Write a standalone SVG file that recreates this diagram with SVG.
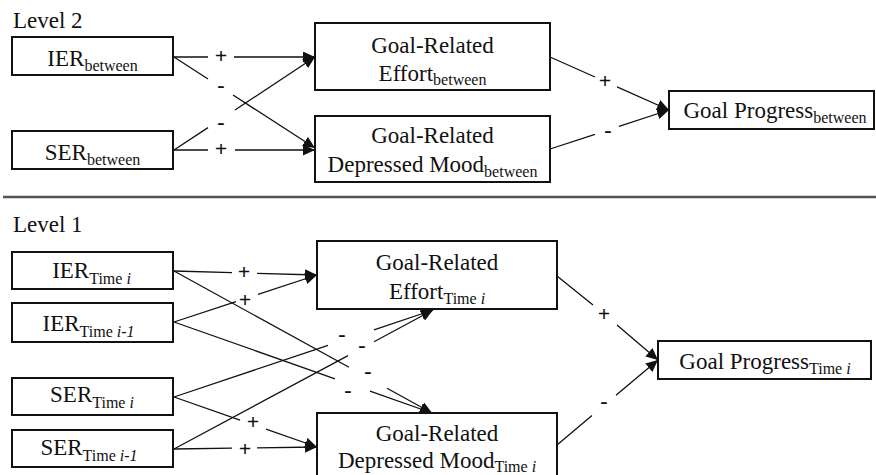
<svg xmlns="http://www.w3.org/2000/svg" width="876" height="475" viewBox="0 0 876 475">
<style>
.box{fill:#fff;stroke:#111;stroke-width:2}
.t{font-family:"Liberation Serif","Times New Roman",serif;font-size:23px;fill:#111;text-anchor:middle}
.lv{font-family:"Liberation Serif","Times New Roman",serif;font-size:23px;fill:#111}
.sub{font-size:16px}
.sg{font-family:"Liberation Serif","Times New Roman",serif;font-size:22px;fill:#111;text-anchor:middle;font-weight:bold}
.c{fill:none;stroke:#111;stroke-width:1.3;marker-end:url(#ah)}
</style>
<defs>
<marker id="ah" markerUnits="userSpaceOnUse" markerWidth="12" markerHeight="11" refX="12" refY="5.5" orient="auto">
<path d="M0,0 L12,5.5 L0,11 z" fill="#111"/>
</marker>
</defs>
<rect width="876" height="475" fill="#fff"/>
<text class="lv" x="13" y="28">Level 2</text>
<text class="lv" x="13" y="232">Level 1</text>
<line x1="3" y1="197" x2="876" y2="197" stroke="#555" stroke-width="2.5"/>

<g id="connectors">
<path class="c" d="M174,57 L208,57 M234,57 L315,57"/>
<path class="c" d="M174,57 L208,79 M233,95 L315,148"/>
<path class="c" d="M174,150 L208,127.6 M235,110 L315,57"/>
<path class="c" d="M174,150 L208,150 M235,150 L315,150"/>
<path class="c" d="M550,57 L595,77 M617,86.8 L669,110"/>
<path class="c" d="M550,149 L595,134.3 M619,126.3 L669,110"/>
<path class="c" d="M174,271 L232,272.6 M257,273.3 L317,275"/>
<path class="c" d="M174,322 L236,301.6 M258,294.4 L317,275"/>
<path class="c" d="M174,271 L349,367.3 M387,388.2 L432,413"/>
<path class="c" d="M174,322 L335,378.8 M370,391.1 L432,413"/>
<path class="c" d="M174,397 L328,345.3 M374,329.8 L433,310"/>
<path class="c" d="M174,449 L348,355.6 M374,341.7 L433,310"/>
<path class="c" d="M174,397 L240,420.1 M266,429.2 L317,447"/>
<path class="c" d="M174,449 L232,448.2 M257,447.8 L317,447"/>
<path class="c" d="M557,276 L593,305.1 M617,325 L658,360"/>
<path class="c" d="M557,445 L592,415.5 M616,395.3 L658,360"/>
<text class="sg" x="221" y="63">+</text>
<text class="sg" x="221" y="92">-</text>
<text class="sg" x="221" y="129">-</text>
<text class="sg" x="221" y="156">+</text>
<text class="sg" x="605" y="88">+</text>
<text class="sg" x="608" y="137">-</text>
<text class="sg" x="244" y="279">+</text>
<text class="sg" x="245" y="307">+</text>
<text class="sg" x="342" y="341">-</text>
<text class="sg" x="362" y="352">-</text>
<text class="sg" x="368" y="378">-</text>
<text class="sg" x="348" y="397">-</text>
<text class="sg" x="253" y="429">+</text>
<text class="sg" x="245" y="456">+</text>
<text class="sg" x="604" y="321">+</text>
<text class="sg" x="604" y="408">-</text>
</g>

<g id="ier-between">
<rect class="box" x="12" y="37" width="161" height="38"/>
<text class="t" x="92.5" y="66">IER<tspan class="sub" dy="5">between</tspan></text>
</g>
<g id="ser-between">
<rect class="box" x="12" y="131" width="161" height="38"/>
<text class="t" x="92.5" y="160">SER<tspan class="sub" dy="5">between</tspan></text>
</g>
<g id="effort-between">
<rect class="box" x="315" y="23" width="235" height="67"/>
<text class="t" x="432.5" y="53">Goal-Related</text>
<text class="t" x="432.5" y="81">Effort<tspan class="sub" dy="4">between</tspan></text>
</g>
<g id="mood-between">
<rect class="box" x="315" y="116" width="235" height="66"/>
<text class="t" x="432.5" y="143">Goal-Related</text>
<text class="t" x="432.5" y="172">Depressed Mood<tspan class="sub" dy="5">between</tspan></text>
</g>
<g id="progress-between">
<rect class="box" x="669" y="91" width="205" height="38"/>
<text class="t" x="775" y="118">Goal Progress<tspan class="sub" dy="5">between</tspan></text>
</g>

<g id="ier-time-i">
<rect class="box" x="12" y="252" width="161" height="37"/>
<text class="t" x="91.5" y="278">IER<tspan class="sub" dy="6">Time <tspan font-style="italic">i</tspan></tspan></text>
</g>
<g id="ier-time-i-1">
<rect class="box" x="12" y="303" width="161" height="39"/>
<text class="t" x="88.5" y="331">IER<tspan class="sub" dy="6">Time <tspan font-style="italic">i-1</tspan></tspan></text>
</g>
<g id="ser-time-i">
<rect class="box" x="12" y="378" width="161" height="37"/>
<text class="t" x="92" y="402">SER<tspan class="sub" dy="6">Time <tspan font-style="italic">i</tspan></tspan></text>
</g>
<g id="ser-time-i-1">
<rect class="box" x="12" y="430" width="161" height="37"/>
<text class="t" x="89" y="455">SER<tspan class="sub" dy="6">Time <tspan font-style="italic">i-1</tspan></tspan></text>
</g>
<g id="effort-time-i">
<rect class="box" x="317" y="241" width="240" height="68"/>
<text class="t" x="437" y="270">Goal-Related</text>
<text class="t" x="437" y="299">Effort<tspan class="sub" dy="5">Time <tspan font-style="italic">i</tspan></tspan></text>
</g>
<g id="mood-time-i">
<rect class="box" x="317" y="413" width="240" height="66"/>
<text class="t" x="437" y="441">Goal-Related</text>
<text class="t" x="437" y="468">Depressed Mood<tspan class="sub" dy="4">Time <tspan font-style="italic">i</tspan></tspan></text>
</g>
<g id="progress-time-i">
<rect class="box" x="658" y="341" width="213" height="38"/>
<text class="t" x="765" y="369">Goal Progress<tspan class="sub" dy="5">Time <tspan font-style="italic">i</tspan></tspan></text>
</g>
</svg>
